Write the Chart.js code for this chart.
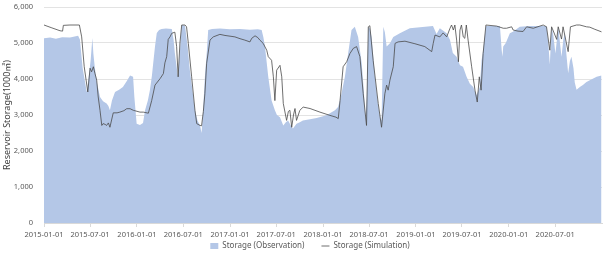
<!DOCTYPE html>
<html>
<head>
<meta charset="utf-8">
<script src="https://cdn.jsdelivr.net/npm/chart.js@4/dist/chart.umd.min.js"></script>
<style>
  html, body { margin: 0; padding: 0; background: #fff; }
  #wrap { width: 603px; height: 256px; }
</style>
</head>
<body>
<div id="wrap"><canvas id="chart"></canvas></div>
<script>
// x values are days counted from 2015-01-01
const tickLabels = ['2015-01-01', '2015-07-01', '2016-01-01', '2016-07-01', '2017-01-01', '2017-07-01',
  '2018-01-01', '2018-07-01', '2019-01-01', '2019-07-01', '2020-01-01', '2020-07-01'];

const obsDay = [0, 24, 47, 71, 102, 134, 141, 152, 168, 173, 183, 190, 194, 200, 208, 220, 232, 246, 253, 259,
  267, 279, 295, 310, 326, 338, 350, 355, 364, 377, 389, 397, 408, 416, 424, 429, 436, 443, 452, 462,
  479, 502, 509, 514, 526, 532, 541, 554, 564, 573, 583, 593, 603, 613, 619, 624, 632, 640, 645, 660,
  691, 730, 770, 809, 840, 855, 862, 868, 881, 894, 907, 915, 927, 940, 950, 959, 970, 978, 992, 1005,
  1017, 1045, 1071, 1110, 1143, 1155, 1166, 1182, 1195, 1208, 1221, 1234, 1248, 1255, 1263, 1268, 1274, 1280, 1287, 1300,
  1312, 1320, 1326, 1333, 1339, 1346, 1359, 1372, 1398, 1437, 1477, 1528, 1542, 1555, 1582, 1595, 1606, 1621, 1634, 1646,
  1660, 1673, 1686, 1699, 1712, 1719, 1725, 1736, 1771, 1791, 1798, 1801, 1804, 1814, 1830, 1842, 1869, 1909, 1974, 1981,
  1987, 1994, 2001, 2009, 2015, 2020, 2027, 2033, 2040, 2046, 2052, 2059, 2066, 2072, 2080, 2085, 2092, 2105, 2117, 2131,
  2148, 2171, 2190];
const obsStorage = [5130, 5150, 5120, 5160, 5150, 5200, 5100, 4300, 3640, 3900, 4500, 5140, 4700, 4300, 3900, 3500, 3380, 3320, 3250, 3130,
  3400, 3640, 3700, 3780, 3950, 4100, 4060, 3500, 2760, 2720, 2780, 3130, 3400, 3690, 4100, 4440, 4900, 5280, 5360, 5390,
  5400, 5390, 5100, 4720, 4060, 4600, 5500, 5480, 4900, 4245, 3700, 3130, 2850, 2710, 2500, 3000, 4060, 4800, 5360, 5390,
  5400, 5380, 5390, 5370, 5380, 5360, 5150, 4900, 4060, 3400, 3130, 3000, 2940, 2710, 2800, 2850, 2700, 2625, 2760, 2800,
  2850, 2880, 2920, 2990, 3130, 3220, 3500, 4060, 4720, 5360, 5450, 5170, 4440, 3800, 2900, 3500, 5450, 5400, 5170, 4060,
  3300, 2940, 2850, 5450, 5300, 4900, 4990, 5170, 5270, 5410, 5440, 5470, 5250, 5410, 5270, 5080, 4720, 4620, 4380, 4340,
  4060, 3870, 3780, 3550, 3780, 4520, 4800, 5470, 5470, 5470, 4800, 4620, 4900, 5000, 5270, 5310, 5450, 5470, 5470, 5000,
  4400, 5450, 5200, 4710, 5100, 5450, 5000, 4620, 5100, 5270, 4700, 4160, 4500, 4620, 4300, 3900, 3700, 3780, 3830, 3920,
  3980, 4060, 4100];

const simDay = [0, 31, 63, 73, 76, 102, 139, 148, 158, 172, 181, 187, 194, 200, 207, 213, 220, 227, 232, 240,
  246, 253, 259, 272, 287, 298, 314, 325, 338, 351, 377, 390, 410, 423, 436, 456, 469, 475, 482, 488,
  495, 502, 514, 521, 527, 534, 541, 554, 560, 567, 580, 593, 600, 613, 619, 626, 632, 639, 652, 665,
  691, 711, 750, 770, 789, 809, 816, 829, 840, 848, 861, 875, 881, 894, 901, 907, 914, 927, 934, 940,
  953, 960, 966, 973, 980, 986, 992, 1005, 1018, 1045, 1084, 1123, 1147, 1156, 1163, 1175, 1189, 1202, 1215, 1228,
  1241, 1254, 1267, 1274, 1280, 1293, 1313, 1326, 1339, 1346, 1352, 1359, 1372, 1379, 1391, 1418, 1457, 1496, 1523, 1529,
  1536, 1555, 1568, 1582, 1595, 1601, 1608, 1614, 1621, 1628, 1634, 1640, 1647, 1653, 1659, 1666, 1680, 1693, 1702, 1710,
  1717, 1725, 1736, 1778, 1804, 1817, 1837, 1843, 1862, 1882, 1896, 1922, 1948, 1961, 1974, 1987, 1994, 2014, 2020, 2033,
  2039, 2059, 2068, 2092, 2105, 2131, 2144, 2164, 2190];
const simStorage = [5500, 5420, 5340, 5330, 5490, 5500, 5500, 5170, 4340, 3640, 4300, 4200, 4340, 4160, 3970, 3500, 3130, 2710, 2760, 2740,
  2710, 2780, 2660, 3060, 3060, 3080, 3120, 3175, 3175, 3130, 3080, 3080, 3050, 3400, 3830, 4010, 4150, 4450, 4620, 5100,
  5170, 5270, 5300, 4900, 4060, 5000, 5500, 5500, 5450, 4990, 4060, 3130, 2760, 2710, 2700, 3100, 3590, 4440, 5080, 5170,
  5240, 5210, 5170, 5120, 5080, 5030, 5130, 5200, 5150, 5080, 4990, 4800, 4620, 4520, 4060, 3400, 4245, 4380, 4060, 3320,
  2850, 3100, 3130, 2660, 3000, 3180, 2850, 3130, 3220, 3180, 3080, 2990, 2940, 2900, 3400, 4340, 4480, 4710, 4850, 4900,
  4620, 3590, 2710, 5450, 5480, 4520, 3320, 2660, 3590, 3830, 3690, 3970, 4340, 4990, 5030, 5050, 4980, 4900, 4760, 4990,
  5220, 5170, 5280, 5170, 5410, 5500, 5360, 5500, 5080, 4480, 5360, 5500, 5170, 5130, 5500, 5080, 4340, 3690, 3360, 4060,
  3690, 4710, 5500, 5470, 5410, 5410, 5450, 5360, 5330, 5320, 5450, 5410, 5470, 5500, 5450, 4800, 5450, 5100, 5450, 5110,
  5450, 4760, 5450, 5500, 5500, 5450, 5440, 5380, 5310];

const seriesNames = ['Storage (Observation)', 'Storage (Simulation)'];
const yTitle = 'Reservoir Storage(1000㎥)';

const dayOf = s => (Date.parse(s) - Date.parse('2015-01-01')) / 86400000;
const tickDays = tickLabels.map(dayOf);

const FONT = '"Noto Sans", "Noto Sans CJK KR", sans-serif';
const TEXT = '#595959';
const LEGEND_GAP = 17;

// wide gap between legend items without the legend eating vertical space
const legendNudge = {
  id: 'legendNudge',
  beforeLayout(chart) {
    const lg = chart.legend;
    if (lg && !lg._nudged) {
      const fit = lg.fit;
      lg.fit = function () { fit.call(this); this.height = 14; };
      lg._nudged = true;
    }
  },
  afterLayout(chart) {
    const lg = chart.legend;
    if (lg) {
      lg.top -= LEGEND_GAP;  // legend clips to its box, so only move the top
      lg.left += 18;         // centre it a little right, as in the original
    }
  }
};

const ctx = document.getElementById('chart').getContext('2d');
new Chart(ctx, {
  type: 'line',
  data: {
    datasets: [{
      label: seriesNames[0],
      data: obsDay.map((d, i) => ({ x: d, y: obsStorage[i] })),
      backgroundColor: '#b4c7e7',
      borderColor: '#b4c7e7',
      borderWidth: 0,
      fill: 'origin',
      pointRadius: 0,
      pointStyle: 'rect',
      order: 2
    }, {
      label: seriesNames[1],
      data: simDay.map((d, i) => ({ x: d, y: simStorage[i] })),
      borderColor: '#4a4a4a',
      backgroundColor: '#4a4a4a',
      borderWidth: 0.8,
      fill: false,
      pointRadius: 0,
      pointStyle: 'line',
      order: 1
    }]
  },
  plugins: [legendNudge],
  options: {
    responsive: true,
    maintainAspectRatio: false,
    animation: false,
    layout: { padding: { top: 7, right: 1, bottom: 0, left: 0 } },
    scales: {
      x: {
        type: 'linear',
        min: 0,
        max: 2192,
        afterBuildTicks: scale => { scale.ticks = tickDays.map(v => ({ value: v })); },
        ticks: {
          autoSkip: false,
          maxRotation: 0,
          padding: 3,
          color: TEXT,
          font: { family: FONT, size: 7.5 },
          callback: (v, i) => tickLabels[i]
        },
        grid: { drawOnChartArea: false, drawTicks: true, tickLength: 4, color: '#d9d9d9' },
        border: { display: true, color: '#d9d9d9' }
      },
      y: {
        min: 0,
        max: 6000,
        afterFit: scale => {
          scale.width = 44;
          scale.paddingTop = 5;
          scale.paddingBottom = 5;
        },
        ticks: {
          stepSize: 1000,
          padding: 11,
          color: TEXT,
          font: { family: FONT, size: 7.5 },
          callback: v => v.toLocaleString('en-US')
        },
        grid: { color: '#e3e3e3', drawTicks: false },
        border: { display: false },
        title: {
          display: true,
          text: yTitle,
          color: '#404040',
          padding: { top: 2, bottom: 0 },
          font: { family: FONT, size: 9 }
        }
      }
    },
    plugins: {
      legend: {
        position: 'bottom',
        labels: {
          usePointStyle: true,
          pointStyleWidth: 8,
          boxHeight: 6,
          padding: LEGEND_GAP,
          color: TEXT,
          font: { family: FONT, size: 8 },
          sort: (a, b) => a.datasetIndex - b.datasetIndex
        }
      },
      tooltip: { enabled: false }
    }
  }
});
</script>
</body>
</html>
